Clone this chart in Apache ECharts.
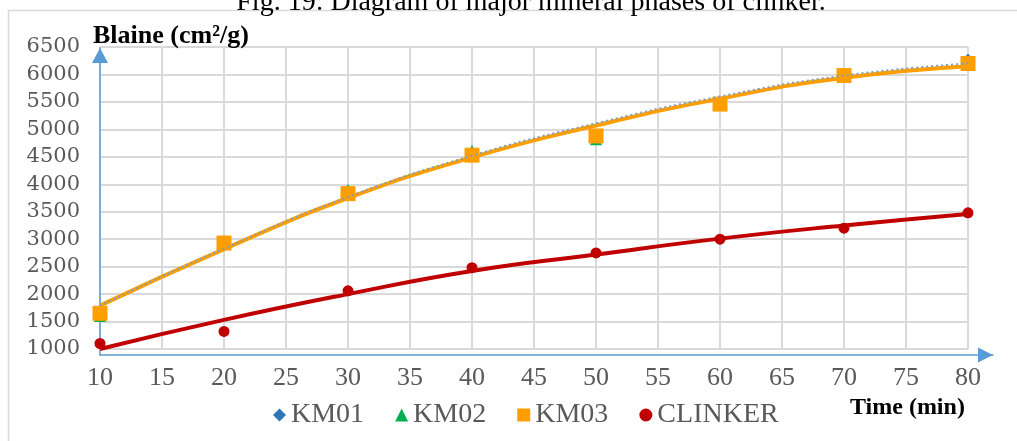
<!DOCTYPE html>
<html>
<head>
<meta charset="utf-8">
<script src="https://cdn.jsdelivr.net/npm/echarts@6/dist/echarts.min.js"></script>
<style>
  html, body { margin: 0; padding: 0; background: #fff; }
  #chart { width: 1017px; height: 441px; }
</style>
</head>
<body>
<div id="chart"></div>
<script>
// values
const times = [10, 20, 30, 40, 50, 60, 70, 80];
const km01 = [1650, 2930, 3850, 4560, 4900, 5470, 5990, 6270];
const km02 = [1600, 2930, 3900, 4610, 4820, 5460, 6000, 6200];
const km03 = [1650, 2930, 3830, 4530, 4880, 5460, 5980, 6200];
const clinker = [1100, 1320, 2060, 2480, 2750, 3000, 3200, 3480];

// trend lines, read at the same times
const km01Trend = [1790, 2830, 3770, 4520, 5110, 5600, 5980, 6200];
const km03Trend = [1790, 2820, 3750, 4490, 5070, 5560, 5940, 6150];
const clinkerTrend = [1000, 1530, 2000, 2420, 2720, 3010, 3250, 3460];

const pairs = (ys) => times.map((t, i) => [t, ys[i]]);

const axisBlue = "#5b9bd5";
const gridGray = "#d9d9d9";
const labelGray = "#595959";

const chart = echarts.init(document.getElementById("chart"));

chart.setOption({
  animation: false,
  graphic: [
    {
      type: "rect",
      shape: { x: 8.5, y: 10.5, width: 1020, height: 440 },
      style: { fill: "none", stroke: gridGray, lineWidth: 1.5 },
      silent: true
    },
    {
      type: "text",
      x: 531,
      y: 3,
      style: {
        text: "Fig. 19: Diagram of major mineral phases of clinker.",
        font: "28px 'Liberation Serif'",
        fill: "#000",
        align: "center",
        verticalAlign: "middle"
      }
    },
    {
      type: "text",
      x: 850,
      y: 408,
      style: {
        text: "Time (min)",
        font: "bold 24px 'Liberation Serif'",
        fill: "#000",
        align: "left",
        verticalAlign: "middle"
      }
    }
  ],
  legend: {
    data: [
      { name: "KM01", icon: "diamond" },
      { name: "KM02", icon: "triangle" },
      { name: "KM03", icon: "rect" },
      { name: "CLINKER", icon: "circle" }
    ],
    left: 268,
    top: 396,
    itemWidth: 13,
    itemHeight: 13,
    itemGap: 31,
    textStyle: {
      fontFamily: "Liberation Serif",
      fontSize: 28,
      color: labelGray
    }
  },
  grid: [
    { left: 100, right: 49, top: 47, bottom: 92 },
    // only holds the blue arrowed axes
    { left: 100, right: 24, top: 48, bottom: 86 }
  ],
  xAxis: [
    {
      type: "value",
      gridIndex: 0,
      min: 10,
      max: 80,
      interval: 5,
      axisLine: { show: false },
      axisTick: { show: false },
      axisLabel: {
        margin: 16,
        fontFamily: "Liberation Serif",
        fontSize: 26,
        color: labelGray
      },
      splitLine: { lineStyle: { color: gridGray, width: 2 } }
    },
    {
      type: "value",
      gridIndex: 1,
      min: 0,
      max: 1,
      axisLine: {
        onZero: false,
        symbol: ["none", "triangle"],
        symbolSize: [15, 15],
        symbolOffset: [0, -7.5],
        lineStyle: { color: axisBlue, width: 1.5 }
      },
      axisTick: { show: false },
      axisLabel: { show: false },
      splitLine: { show: false }
    }
  ],
  yAxis: [
    {
      type: "value",
      gridIndex: 0,
      min: 1000,
      max: 6500,
      interval: 500,
      name: "Blaine (cm²/g)",
      nameLocation: "end",
      nameGap: 11,
      nameTextStyle: {
        align: "left",
        verticalAlign: "middle",
        fontFamily: "Liberation Serif",
        fontWeight: "bold",
        fontSize: 26,
        color: "#000",
        padding: [0, 0, 0, -7]
      },
      axisLine: { show: false },
      axisTick: { show: false },
      axisLabel: {
        margin: 20,
        fontFamily: "DejaVu Serif",
        fontSize: 21,
        color: labelGray,
        formatter: (v) => String(v)
      },
      splitLine: { lineStyle: { color: gridGray, width: 2 } }
    },
    {
      type: "value",
      gridIndex: 1,
      min: 0,
      max: 1,
      axisLine: {
        show: true,
        onZero: false,
        symbol: ["none", "triangle"],
        symbolSize: [16, 15],
        symbolOffset: [0, -7.5],
        lineStyle: { color: axisBlue, width: 1.5 }
      },
      axisTick: { show: false },
      axisLabel: { show: false },
      splitLine: { show: false }
    }
  ],
  series: [
    {
      name: "KM01",
      type: "scatter",
      symbol: "diamond",
      symbolSize: 12,
      itemStyle: { color: "#2e75b6", opacity: 1 },
      data: pairs(km01)
    },
    {
      name: "KM02",
      type: "scatter",
      symbol: "triangle",
      symbolSize: 12,
      itemStyle: { color: "#00b050", opacity: 1 },
      data: pairs(km02)
    },
    {
      name: "KM03",
      type: "scatter",
      symbol: "rect",
      symbolSize: 15,
      itemStyle: { color: "#ff9e00", opacity: 1 },
      data: pairs(km03)
    },
    {
      name: "CLINKER",
      type: "scatter",
      symbol: "circle",
      symbolSize: 11,
      itemStyle: { color: "#c00000", opacity: 1 },
      data: pairs(clinker)
    },
    {
      name: "KM03 trend",
      type: "line",
      smooth: true,
      showSymbol: false,
      silent: true,
      lineStyle: { color: "#ff9e00", width: 4 },
      data: pairs(km03Trend)
    },
    {
      name: "KM01 trend",
      type: "line",
      smooth: true,
      showSymbol: false,
      silent: true,
      lineStyle: { color: "#7f9fc0", width: 2, type: [2, 3] },
      data: pairs(km01Trend)
    },
    {
      name: "CLINKER trend",
      type: "line",
      smooth: true,
      showSymbol: false,
      silent: true,
      lineStyle: { color: "#c00000", width: 4 },
      data: pairs(clinkerTrend)
    }
  ]
});
</script>
</body>
</html>
